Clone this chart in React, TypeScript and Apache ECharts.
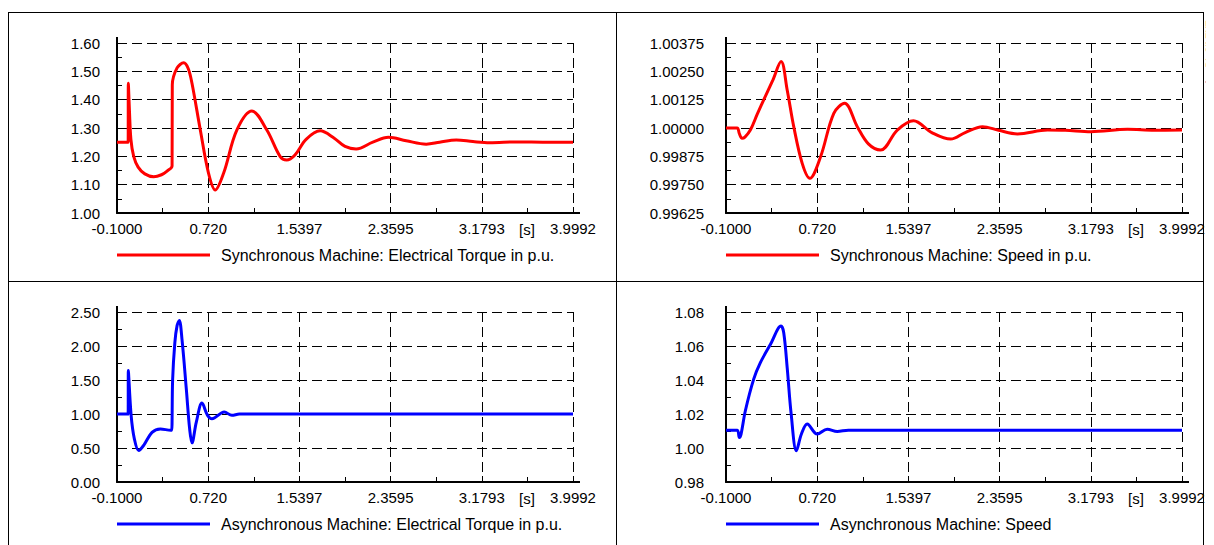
import React, { useEffect, useRef } from "react";
import * as echarts from "echarts";

// ---------- data ----------
const xTickLabels = ["-0.1000", "0.720", "1.5397", "2.3595", "3.1793", "3.9992"];
const T_START = -0.1;
const T_END = 3.9992;

const syncTorqueT = [-0.1, 0.0, 0.002, 0.012, 0.025, 0.05, 0.09, 0.15, 0.23, 0.3, 0.35, 0.395, 0.397, 0.44, 0.5, 0.54, 0.574, 0.649, 0.723, 0.783, 0.858, 0.978, 1.113, 1.247, 1.367, 1.425, 1.5, 1.6, 1.726, 1.85, 1.95, 2.05, 2.2, 2.34, 2.5, 2.68, 2.8, 2.95, 3.1, 3.25, 3.5, 3.75, 3.9992];
const syncTorqueV = [1.25, 1.25, 1.458, 1.36, 1.26, 1.2, 1.162, 1.138, 1.128, 1.135, 1.148, 1.166, 1.452, 1.512, 1.53, 1.51, 1.458, 1.293, 1.14, 1.081, 1.14, 1.293, 1.36, 1.293, 1.199, 1.187, 1.205, 1.26, 1.29, 1.265, 1.235, 1.226, 1.25, 1.267, 1.255, 1.243, 1.25, 1.258, 1.252, 1.248, 1.251, 1.25, 1.25];

const syncSpeedT = [-0.1, 0.0, 0.02, 0.044, 0.07, 0.119, 0.18, 0.239, 0.32, 0.395, 0.45, 0.509, 0.585, 0.653, 0.75, 0.869, 0.966, 1.08, 1.18, 1.29, 1.44, 1.585, 1.75, 1.92, 2.05, 2.206, 2.35, 2.52, 2.79, 2.95, 3.18, 3.51, 3.75, 3.9992];
const syncSpeedV = [1.0, 1.0, 0.99975, 0.99955, 0.9996, 0.99991, 1.0006, 1.00124, 1.0021, 1.00293, 1.00168, 1.00006, 0.99844, 0.99778, 0.99873, 1.00065, 1.00109, 1.00006, 0.9993, 0.99903, 0.99991, 1.00032, 0.9998, 0.99951, 0.9998, 1.00006, 0.9999, 0.99974, 0.99991, 0.9999, 0.99984, 0.99994, 0.9999, 0.99991];

const asyncTorqueT = [-0.1, 0.0, 0.002, 0.027, 0.056, 0.095, 0.14, 0.215, 0.29, 0.385, 0.392, 0.4, 0.42, 0.44, 0.46, 0.484, 0.523, 0.553, 0.574, 0.613, 0.664, 0.714, 0.754, 0.864, 0.933, 1.0, 3.9992];
const asyncTorqueV = [1.0, 1.0, 1.64, 0.98, 0.635, 0.463, 0.54, 0.73, 0.78, 0.76, 0.76, 1.5, 2.05, 2.3, 2.375, 2.1, 1.37, 0.78, 0.576, 0.88, 1.16, 0.98, 0.93, 1.03, 0.98, 1.0, 1.0];

const asyncSpeedT = [-0.1, 0.0, 0.02, 0.035, 0.074, 0.149, 0.209, 0.3, 0.395, 0.419, 0.45, 0.486, 0.533, 0.578, 0.63, 0.72, 0.81, 0.9, 1.0, 3.9992];
const asyncSpeedV = [1.0105, 1.0105, 1.0062, 1.008, 1.0219, 1.0405, 1.0502, 1.061, 1.0717, 1.0678, 1.0473, 1.0199, 0.9984, 1.0082, 1.0141, 1.0082, 1.0111, 1.0097, 1.0105, 1.0105];

const seriesNames = [
  "Synchronous Machine: Electrical Torque in p.u.",
  "Synchronous Machine: Speed in p.u.",
  "Asynchronous Machine: Electrical Torque in p.u.",
  "Asynchronous Machine: Speed",
];
const seriesColors = ["#ff0000", "#ff0000", "#0000ff", "#0000ff"];
const yMins = [1.0, 0.99625, 0.0, 0.98];
const yMaxs = [1.6, 1.00375, 2.5, 1.08];
const yIntervals = [0.1, 0.00125, 0.5, 0.02];
const yDecimals = [2, 5, 2, 2];

// ---------- layout (page pixels, the chart div sits at the body margin) ----------
const OX = 8;
const OY = 8;
const FONT = '"Liberation Sans", Arial, Helvetica, sans-serif';
const X_SPAN = T_END - T_START;
const X_STEP = X_SPAN / 5;
const gridBoxes = [
  { left: 117, top: 43, width: 456, height: 170 },
  { left: 726, top: 43, width: 456, height: 170 },
  { left: 117, top: 312, width: 456, height: 170 },
  { left: 726, top: 312, width: 456, height: 170 },
];
const legendTops = [247, 247, 516, 516];

function toData(ts: number[], vs: number[]) {
  return ts.map((t, i) => [t - T_START, vs[i]]);
}

export default function App() {
  const ref = useRef<HTMLDivElement>(null);
  useEffect(() => {
    if (!ref.current) return;
    const chart = echarts.init(ref.current, null, { renderer: "svg" });
    const datas = [
      toData(syncTorqueT, syncTorqueV),
      toData(syncSpeedT, syncSpeedV),
      toData(asyncTorqueT, asyncTorqueV),
      toData(asyncSpeedT, asyncSpeedV),
    ];
    const grid = gridBoxes.map((g) => ({
      left: g.left - OX,
      top: g.top - OY,
      width: g.width,
      height: g.height,
      containLabel: false,
    }));
    const xAxis = gridBoxes.map((_, i) => ({
      type: "value",
      gridIndex: i,
      min: 0,
      max: X_SPAN,
      interval: X_STEP,
      axisLine: { show: true, onZero: false, lineStyle: { color: "#000", width: 2 } },
      axisTick: { show: true, inside: true, length: 6, lineStyle: { color: "#000" } },
      minorTick: { show: true, splitNumber: 2, length: 5, lineStyle: { color: "#000" } },
      axisLabel: {
        color: "#000",
        fontSize: 15,
        fontFamily: FONT,
        margin: 8,
        showMinLabel: true,
        showMaxLabel: true,
        formatter: (v: number) => xTickLabels[Math.round(v / X_STEP)] ?? "",
      },
      splitLine: { show: true, lineStyle: { color: "#000", width: 1, type: [10, 5] } },
    }));
    const yAxis = gridBoxes.map((_, i) => ({
      type: "value",
      gridIndex: i,
      min: yMins[i],
      max: yMaxs[i],
      interval: yIntervals[i],
      axisLine: { show: true, onZero: false, lineStyle: { color: "#000", width: 2 } },
      axisTick: { show: true, inside: true, length: 6, lineStyle: { color: "#000" } },
      minorTick: { show: true, splitNumber: 2, length: 5, lineStyle: { color: "#000" } },
      axisLabel: {
        color: "#000",
        fontSize: 15,
        fontFamily: FONT,
        margin: i % 2 === 0 ? 17 : 22,
        showMinLabel: true,
        showMaxLabel: true,
        formatter: (v: number) => v.toFixed(yDecimals[i]),
      },
      splitLine: { show: true, lineStyle: { color: "#000", width: 1, type: [10, 5] } },
    }));
    const series = datas.map((d, i) => ({
      type: "line",
      name: seriesNames[i],
      xAxisIndex: i,
      yAxisIndex: i,
      data: d,
      showSymbol: false,
      smooth: 0.35,
      lineStyle: { color: seriesColors[i], width: 3 },
      itemStyle: { color: seriesColors[i] },
      clip: true,
      z: 3,
    }));
    const legend = gridBoxes.map((g, i) => ({
      show: true,
      left: g.left - OX,
      top: legendTops[i] - OY,
      padding: 0,
      data: [seriesNames[i]],
      icon: "rect",
      itemWidth: 93,
      itemHeight: 3,
      selectedMode: false,
      textStyle: { color: "#000", fontSize: 16, fontFamily: FONT, lineHeight: 16, padding: [0, 0, 0, 6] },
    }));

    const frame = (x1: number, y1: number, x2: number, y2: number, w = 1) => ({
      type: "line",
      silent: true,
      shape: { x1: x1 - OX, y1: y1 - OY, x2: x2 - OX, y2: y2 - OY },
      style: { stroke: "#000", lineWidth: w },
    });
    const graphic: any[] = [
      frame(8, 12.5, 1204, 12.5),
      frame(8.5, 12, 8.5, 545),
      frame(616.5, 12, 616.5, 545),
      frame(8, 281.5, 1204, 281.5),
      frame(1203.5, 12, 1203.5, 545),
    ];
    gridBoxes.forEach((g) => {
      graphic.push(frame(g.left + g.width, g.top + g.height, g.left + g.width + 7, g.top + g.height, 2));
      graphic.push(frame(g.left, g.top, g.left, g.top - 6, 2));
      graphic.push({
        type: "text",
        silent: true,
        x: g.left + 410 - OX,
        y: g.top + g.height + 16 - OY,
        style: { text: "[s]", fill: "#000", font: `15px ${FONT}`, align: "center", verticalAlign: "middle" },
      });
    });
    graphic.push({
      type: "text",
      silent: true,
      x: 1208.5 - OX,
      y: 44 - OY,
      rotation: Math.PI / 2,
      style: { text: "DIgSILENT", fill: "#000", font: `bold 9px ${FONT}`, align: "center", verticalAlign: "middle" },
    });
    graphic.push({
      type: "polygon",
      silent: true,
      shape: { points: [[1205 - OX, 82 - OY], [1212 - OX, 78 - OY], [1212 - OX, 86 - OY]] },
      style: { fill: "#c00000" },
    });

    chart.setOption({
      animation: false,
      backgroundColor: "#ffffff",
      grid,
      xAxis,
      yAxis,
      series,
      legend,
      graphic,
      tooltip: { show: false },
    });
    return () => chart.dispose();
  }, []);
  return <div ref={ref} style={{ width: 1206, height: 537, background: "#fff" }} />;
}
